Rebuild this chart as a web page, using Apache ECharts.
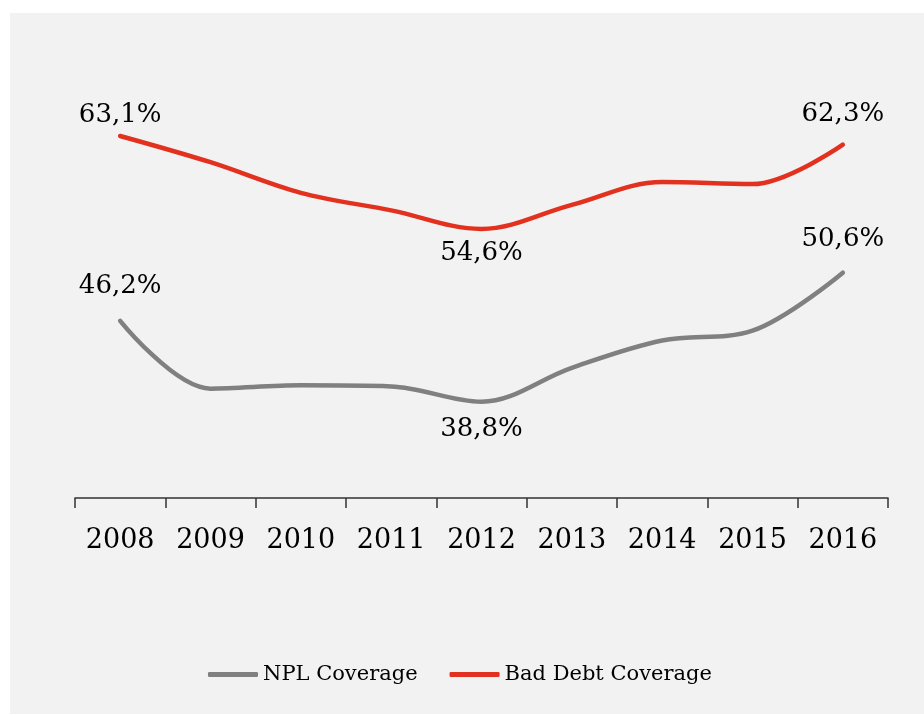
<!DOCTYPE html>
<html>
<head>
<meta charset="utf-8">
<script src="https://cdn.jsdelivr.net/npm/echarts@6/dist/echarts.min.js"></script>
<style>
  html, body { margin: 0; padding: 0; background: #ffffff; width: 924px; height: 715px; overflow: hidden; }
  #chart { position: absolute; left: 10px; top: 13px; width: 914px; height: 701px; background: #f2f2f2; }
</style>
</head>
<body>
<div id="chart"></div>
<script>
const years = ['2008', '2009', '2010', '2011', '2012', '2013', '2014', '2015', '2016'];
const nplCoverage = [46.2, 40.0, 40.3, 40.2, 38.8, 41.9, 44.4, 45.3, 50.6];
const badDebtCoverage = [63.1, 60.7, 57.9, 56.3, 54.6, 56.8, 58.9, 58.7, 62.3];
const seriesNames = ['NPL Coverage', 'Bad Debt Coverage'];

const fontFamily = 'DejaVu Serif';

function fmt(v) { return v.toFixed(1).replace('.', ',') + '%'; }

// label placement per series: index -> [position, distance]
const nplLabels = { 0: ['top', 21], 4: ['bottom', 14], 8: ['top', 20] };
const badLabels = { 0: ['top', 7], 4: ['bottom', 11], 8: ['top', 17] };

function build(values, cfg) {
  return values.map((v, i) => {
    const c = cfg[i];
    return {
      value: v,
      label: c ? {
        show: true, position: c[0], distance: c[1],
        formatter: fmt(v), color: '#000', fontFamily: fontFamily, fontSize: 26
      } : { show: false }
    };
  });
}

const chart = echarts.init(document.getElementById('chart'), null, { renderer: 'canvas' });
chart.setOption({
  animation: false,
  backgroundColor: '#f2f2f2',
  grid: { left: 65, right: 36, top: 47.5, bottom: 216 },
  legend: {
    data: seriesNames,
    left: 193,
    top: 646,
    itemWidth: 50,
    itemHeight: 5,
    itemGap: 32,
    icon: 'roundRect',
    textStyle: { fontFamily: fontFamily, fontSize: 21, color: '#000' }
  },
  xAxis: {
    type: 'category',
    data: years,
    boundaryGap: true,
    axisLine: { show: true, lineStyle: { color: '#333', width: 1.5 } },
    axisTick: { show: true, interval: 0, length: 10, lineStyle: { color: '#333', width: 1.5 } },
    axisLabel: { interval: 0, hideOverlap: false, margin: 29, color: '#000', fontFamily: fontFamily, fontSize: 27, verticalAlign: 'top' }
  },
  yAxis: {
    type: 'value', min: 30, max: 70, show: false,
    splitLine: { show: false }
  },
  series: [
    {
      name: seriesNames[0], type: 'line', smooth: 0.35,
      data: build(nplCoverage, nplLabels),
      symbol: 'circle', symbolSize: 1,
      lineStyle: { color: '#808080', width: 4.5, cap: 'round' },
      itemStyle: { color: '#808080' }
    },
    {
      name: seriesNames[1], type: 'line', smooth: 0.35,
      data: build(badDebtCoverage, badLabels),
      symbol: 'circle', symbolSize: 1,
      lineStyle: { color: '#e2321f', width: 4.5, cap: 'round' },
      itemStyle: { color: '#e2321f' }
    }
  ]
});
</script>
</body>
</html>
